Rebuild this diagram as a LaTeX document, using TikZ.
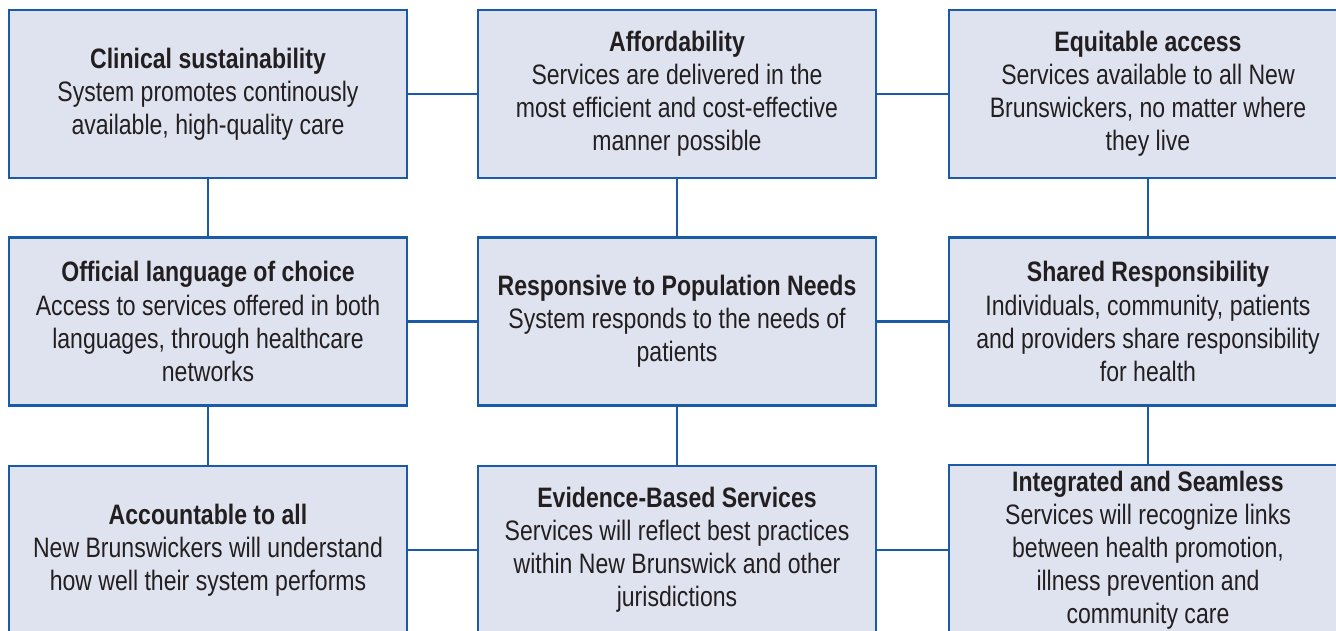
\documentclass[tikz,border=0pt]{standalone}
\usepackage{fontspec}
\setmainfont{Liberation Sans}[FakeStretch=0.82]
\usepackage{tikz}

\definecolor{boxfill}{HTML}{DFE3F0}
\definecolor{boxline}{HTML}{1B5AA6}
\definecolor{boxtext}{HTML}{231F20}

\begin{document}
\begin{tikzpicture}
    \tikzstyle{goal} = [rectangle, draw=boxline, line width=1.6pt, fill=boxfill,
        text=boxtext, minimum width=7.96cm, minimum height=3.36cm, align=center,
        font=\fontsize{16}{18.8}\selectfont]
    \tikzstyle{link} = [draw=boxline, line width=1.4pt]

    % page frame (the right column and bottom row run off the edge)
    \clip (0,0) rectangle (26.72,12.6);

    % Top row
    \node[goal] (clin) at (4.16,10.72) {\textbf{Clinical sustainability}\\System promotes continously\\available, high-quality care};
    \node[goal] (afford) at (13.54,10.72) {\textbf{Affordability}\\Services are delivered in the\\most efficient and cost-effective\\manner possible};
    \node[goal] (equit) at (22.96,10.72) {\textbf{Equitable access}\\Services available to all New\\Brunswickers, no matter where\\they live};

    % Middle row
    \node[goal] (lang) at (4.16,6.17) {\textbf{Official language of choice}\\Access to services offered in both\\languages, through healthcare\\networks};
    \node[goal] (resp) at (13.54,6.17) {\textbf{Responsive to Population Needs}\\System responds to the needs of\\patients};
    \node[goal] (shared) at (22.96,6.17) {\textbf{Shared Responsibility}\\Individuals, community, patients\\and providers share responsibility\\for health};

    % Bottom row
    \node[goal] (acct) at (4.16,1.6) {\textbf{Accountable to all}\\New Brunswickers will understand\\how well their system performs};
    \node[goal] (evid) at (13.54,1.6) {\textbf{Evidence-Based Services}\\Services will reflect best practices\\within New Brunswick and other\\jurisdictions};
    \node[goal] (integ) at (22.96,1.6) {\textbf{Integrated and Seamless}\\Services will recognize links\\between health promotion,\\illness prevention and\\community care};

    % Horizontal links
    \draw[link] (clin) -- (afford);
    \draw[link] (afford) -- (equit);
    \draw[link] (lang) -- (resp);
    \draw[link] (resp) -- (shared);
    \draw[link] (acct) -- (evid);
    \draw[link] (evid) -- (integ);

    % Vertical links
    \draw[link] (clin) -- (lang);
    \draw[link] (lang) -- (acct);
    \draw[link] (afford) -- (resp);
    \draw[link] (resp) -- (evid);
    \draw[link] (equit) -- (shared);
    \draw[link] (shared) -- (integ);
\end{tikzpicture}
\end{document}
